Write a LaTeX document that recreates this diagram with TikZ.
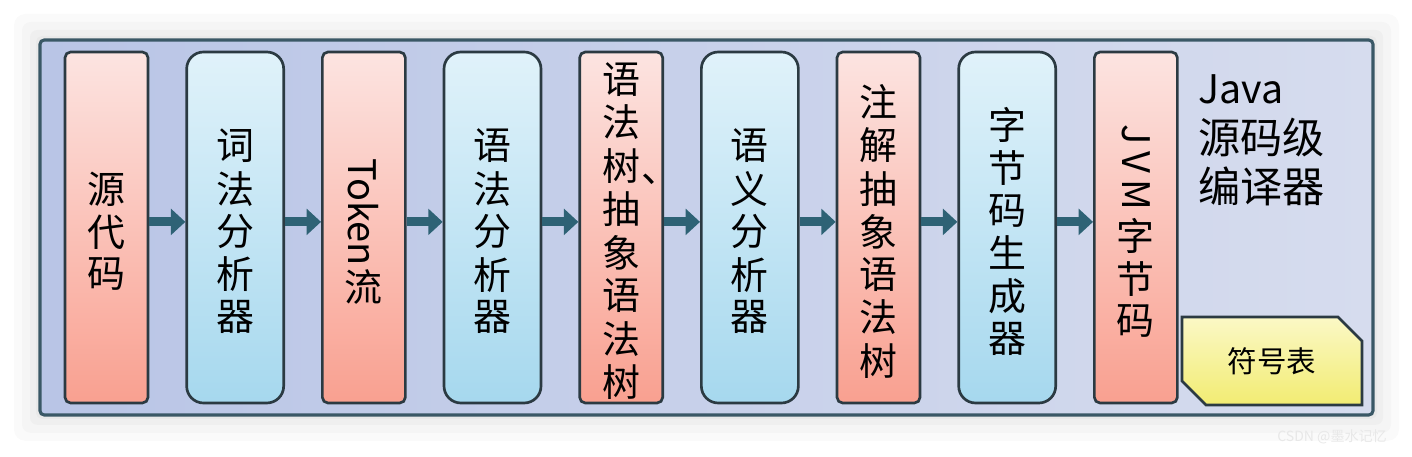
\documentclass[tikz,border=0pt]{standalone}
\usepackage{fontspec}
\setmainfont{Noto Sans CJK SC}
\usepackage{tikz}
\usetikzlibrary{positioning,arrows.meta,shapes.misc}

\definecolor{framecol}{HTML}{3A5866}
\definecolor{edgecol}{HTML}{2B3A42}
\definecolor{flowcol}{HTML}{2E6275}
\definecolor{redtop}{HTML}{FCE4E1}
\definecolor{redbot}{HTML}{F9A090}
\definecolor{bluetop}{HTML}{E0F2FA}
\definecolor{bluebot}{HTML}{A6D8EE}
\definecolor{bgleft}{HTML}{B9C5E6}
\definecolor{bgright}{HTML}{D6DCEE}
\definecolor{symtop}{HTML}{FBF8C6}
\definecolor{symbot}{HTML}{F2EC72}

% one character per line, pushed a little below the centre
\newcommand{\stagetext}[1]{\raisebox{-0.2cm}[\height][\depth]{\begin{tabular}{@{}c@{}}#1\end{tabular}}}

\begin{document}
\begin{tikzpicture}[
    node distance=0.9cm,
    stage/.style={rectangle, draw=edgecol, line width=1.9pt, minimum height=8.775cm, inner sep=0pt, font=\fontsize{27}{27}\selectfont},
    redbox/.style={stage, rounded corners=4pt, minimum width=2.075cm, top color=redtop, bottom color=redbot},
    bluebox/.style={stage, rounded corners=12pt, minimum width=2.425cm, top color=bluetop, bottom color=bluebot},
    arrow/.style={-{Triangle[length=0.36cm,width=0.64cm]}, line width=6.5pt, draw=flowcol}
]

\useasboundingbox (0,0) rectangle (35.3,11.4);
\fill[white] (0,0) rectangle (35.3,11.4);

% soft shadow round the frame
\fill[black, opacity=0.02, rounded corners=8pt] (0.35,0.38) rectangle (34.975,11.05);
\fill[black, opacity=0.02, rounded corners=6pt] (0.55,0.58) rectangle (34.775,10.85);
\fill[black, opacity=0.025, rounded corners=5pt] (0.75,0.78) rectangle (34.575,10.65);
\fill[black, opacity=0.025, rounded corners=4pt] (0.9,0.93) rectangle (34.425,10.5);

% Frame
\node[draw=framecol, line width=2.2pt, rounded corners=3pt, left color=bgleft, right color=bgright,
      minimum width=33.325cm, minimum height=9.375cm] (frame) at (17.6625,5.7125) {};

% Stages
\node[redbox] (src) at (2.6625,5.7125) {\stagetext{源\\代\\码}};
\node[bluebox, right=of src] (lexer) {\stagetext{词\\法\\分\\析\\器}};
\node[redbox, right=of lexer] (tokens) {\stagetext{\raisebox{0.78em}{\rotatebox{-90}{Token}}\\\rule{0pt}{0.95em}流}};
\node[bluebox, right=of tokens] (parser) {\stagetext{语\\法\\分\\析\\器}};
\node[redbox, right=of parser, font=\fontsize{27}{27.4}\selectfont] (ast) {\stagetext{语\\法\\树\rlap{\hspace{0.03em}\raisebox{-0.05em}{、}}\\抽\\象\\语\\法\\树}};
\node[bluebox, right=of ast] (sema) {\stagetext{语\\义\\分\\析\\器}};
\node[redbox, right=of sema] (annot) {\stagetext{注\\解\\抽\\象\\语\\法\\树}};
\node[bluebox, right=of annot] (codegen) {\stagetext{字\\节\\码\\生\\成\\器}};
\node[redbox, right=of codegen] (bytecode) {\stagetext{\raisebox{0.9em}{\rotatebox{-90}{J\,V\,M}}\\\rule{0pt}{1.05em}字\\节\\码}};

% Title and symbol table
\node[anchor=north west, align=left, inner sep=0pt, font=\fontsize{30}{35.5}\selectfont] (title) at (29.95,9.55) {{\fontsize{28}{35.5}\selectfont Java}\\源码级\\编译器};
\node[chamfered rectangle, chamfered rectangle corners={north east, south west},
      chamfered rectangle xsep=0.3cm, chamfered rectangle ysep=0.3cm,
      draw=edgecol, line width=1.9pt, top color=symtop, bottom color=symbot,
      minimum width=4.5cm, minimum height=2.2cm, font=\fontsize{21}{21}\selectfont] (symtab) at (31.8,2.375) {符号表};

% Arrows
\draw[arrow] ([yshift=0.14cm]src.east) -- ([yshift=0.14cm]lexer.west);
\draw[arrow] ([yshift=0.14cm]lexer.east) -- ([yshift=0.14cm]tokens.west);
\draw[arrow] ([yshift=0.14cm]tokens.east) -- ([yshift=0.14cm]parser.west);
\draw[arrow] ([yshift=0.14cm]parser.east) -- ([yshift=0.14cm]ast.west);
\draw[arrow] ([yshift=0.14cm]ast.east) -- ([yshift=0.14cm]sema.west);
\draw[arrow] ([yshift=0.14cm]sema.east) -- ([yshift=0.14cm]annot.west);
\draw[arrow] ([yshift=0.14cm]annot.east) -- ([yshift=0.14cm]codegen.west);
\draw[arrow] ([yshift=0.14cm]codegen.east) -- ([yshift=0.14cm]bytecode.west);

% Watermark
\node[text=gray!18, font=\fontsize{10}{12}\selectfont] (mark) at (33.3,0.48) {CSDN @墨水记忆};

\end{tikzpicture}
\end{document}
